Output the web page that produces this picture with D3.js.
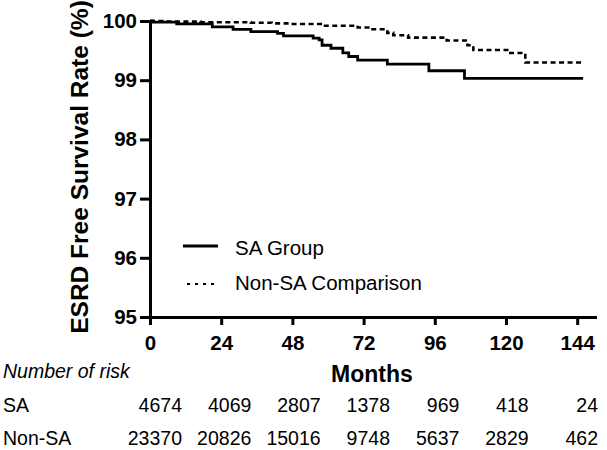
<!DOCTYPE html>
<html>
<head>
<meta charset="utf-8">
<script src="https://cdn.jsdelivr.net/npm/d3@7"></script>
<style>
  html, body { margin: 0; padding: 0; background: #fff; }
  svg { display: block; }
  text { font-family: Arial, "Liberation Sans", sans-serif; fill: #000; }
</style>
</head>
<body>
<svg id="chart" width="607" height="450"></svg>
<script>
// ---- data ----
const months = [0, 24, 48, 72, 96, 120, 144];
const yTicks = [95, 96, 97, 98, 99, 100];

// SA group Kaplan-Meier steps: [month, survival %]
const saMonths = [0, 1, 9, 21, 28, 34, 43, 45, 55, 57, 58, 61, 65, 67, 70, 80, 94, 106, 146];
const saValues = [100, 99.98, 99.95, 99.90, 99.86, 99.82, 99.79, 99.75, 99.71, 99.68, 99.59, 99.54, 99.46, 99.40, 99.34, 99.27, 99.16, 99.03, 99.03];

// Non-SA comparison steps
const nonMonths = [0, 5, 17, 34, 41, 47, 58, 70, 75, 80, 82, 87, 100, 107, 109, 121, 126.5, 146];
const nonValues = [100, 99.99, 99.98, 99.97, 99.96, 99.95, 99.92, 99.89, 99.86, 99.80, 99.76, 99.72, 99.67, 99.59, 99.51, 99.46, 99.30, 99.30];

const riskSA = [4674, 4069, 2807, 1378, 969, 418, 24];
const riskNon = [23370, 20826, 15016, 9748, 5637, 2829, 462];

const seriesNames = ["SA Group", "Non-SA Comparison"];
const rowNames = ["SA", "Non-SA"];

// ---- layout ----
const svg = d3.select("#chart");
const x = d3.scaleLinear().domain([0, 150]).range([150, 595]);
const y = d3.scaleLinear().domain([95, 100]).range([317, 21]);

// axes
const yAxis = d3.axisLeft(y).tickValues(yTicks).tickFormat(d3.format("d"))
  .tickSize(10).tickSizeOuter(0).tickPadding(3);
const xAxis = d3.axisBottom(x).tickValues(months).tickFormat(d3.format("d"))
  .tickSize(8).tickSizeOuter(0).tickPadding(10);

const gy = svg.append("g").attr("transform", `translate(${x(0)},0)`).call(yAxis);
const gx = svg.append("g").attr("transform", `translate(0,${y(95)})`).call(xAxis);

[gy, gx].forEach(g => {
  g.attr("font-family", "Arial, 'Liberation Sans', sans-serif").attr("font-size", 20);
  g.select(".domain").attr("stroke", "#000").attr("stroke-width", 3).attr("stroke-linecap", "square");
  g.selectAll(".tick line").attr("stroke", "#000").attr("stroke-width", 3);
  g.selectAll(".tick text").attr("font-size", 20.5).attr("font-weight", "bold").attr("fill", "#000");
});

// curves
const line = d3.line().x(d => x(d[0])).y(d => y(d[1])).curve(d3.curveStepAfter);
const saData = saMonths.map((m, i) => [m, saValues[i]]);
const nonData = nonMonths.map((m, i) => [m, nonValues[i]]);

svg.append("path").datum(nonData).attr("d", line)
  .attr("fill", "none").attr("stroke", "#000").attr("stroke-width", 2.6)
  .attr("stroke-dasharray", "5,3.5");
svg.append("path").datum(saData).attr("d", line)
  .attr("fill", "none").attr("stroke", "#000").attr("stroke-width", 2.8);

// y title
svg.append("text")
  .attr("transform", "translate(88,167) rotate(-90)")
  .attr("text-anchor", "middle")
  .attr("font-size", 24.5).attr("font-weight", "bold")
  .text("ESRD Free Survival Rate (%)");

// x title
svg.append("text").attr("x", 372).attr("y", 382)
  .attr("text-anchor", "middle").attr("font-size", 23).attr("font-weight", "bold")
  .text("Months");

// legend
const leg = svg.append("g");
leg.append("line").attr("x1", 183).attr("x2", 218).attr("y1", 246).attr("y2", 246)
  .attr("stroke", "#000").attr("stroke-width", 2.8);
leg.append("line").attr("x1", 187).attr("x2", 218).attr("y1", 284).attr("y2", 284)
  .attr("stroke", "#000").attr("stroke-width", 2).attr("stroke-dasharray", "3,5");
leg.append("text").attr("x", 235).attr("y", 255).attr("font-size", 20.5).text(seriesNames[0]);
leg.append("text").attr("x", 235).attr("y", 290).attr("font-size", 20.5).text(seriesNames[1]);

// number at risk table
svg.append("text").attr("x", 3).attr("y", 378).attr("font-size", 19.5)
  .attr("font-style", "italic").text("Number of risk");

const col = d3.scalePoint().domain(months).range([182, 598]);
const rows = [riskSA, riskNon];
const rowY = d3.scalePoint().domain(rowNames).range([412, 445]);

rowNames.forEach((name, r) => {
  svg.append("text").attr("x", 3).attr("y", rowY(name)).attr("font-size", 19.5).text(name);
  svg.append("g").selectAll("text").data(rows[r]).join("text")
    .attr("x", (d, i) => col(months[i]))
    .attr("y", rowY(name))
    .attr("text-anchor", "end")
    .attr("font-size", 19.5)
    .text(d => d);
});
</script>
</body>
</html>
